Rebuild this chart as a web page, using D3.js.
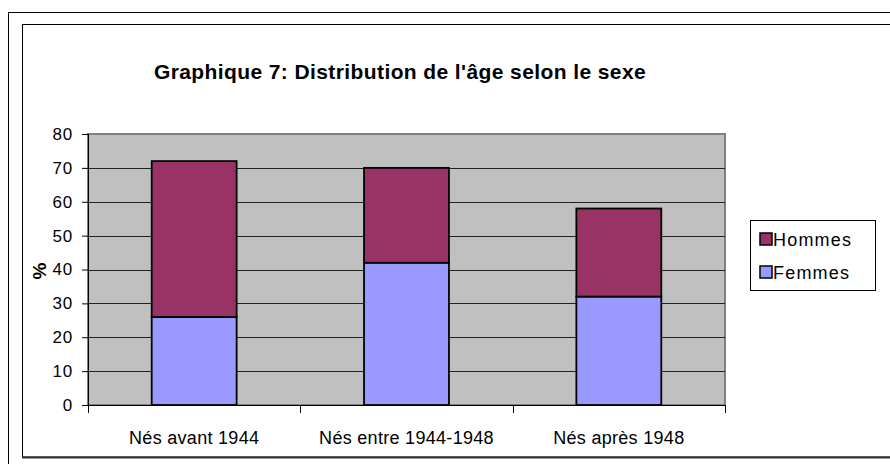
<!DOCTYPE html>
<html>
<head>
<meta charset="utf-8">
<script src="https://cdn.jsdelivr.net/npm/d3@7"></script>
<style>
  body{margin:0;background:#fff;}
  text{font-family:"Liberation Sans",Arial,sans-serif;}
</style>
</head>
<body>
<div id="chart"></div>
<script>
//chart data
const categories=["Nés avant 1944","Nés entre 1944-1948","Nés après 1948"];
const femmes=[26,42,32];
const hommes=[46,28,26];
const seriesNames=["Femmes","Hommes"];
const yTicks=[0,10,20,30,40,50,60,70,80];

const w=890, h=464;
const colors={Femmes:"#9999FF",Hommes:"#993366"};

const svg=d3.select("#chart").append("svg")
    .attr("width",w)
    .attr("height",h);

//outer frames
svg.append("rect")
    .attr("x",8.5).attr("y",12.5)
    .attr("width",900).attr("height",470)
    .attr("fill","none").attr("stroke","#000");
svg.append("rect")
    .attr("x",22.5).attr("y",24.5)
    .attr("width",890).attr("height",432.5)
    .attr("fill","#fff").attr("stroke","#000").attr("stroke-width",1);
svg.append("line")
    .attr("x1",22).attr("x2",w).attr("y1",457.5).attr("y2",457.5)
    .attr("stroke","#333").attr("stroke-width",2);

//title
svg.append("text")
    .attr("x",400).attr("y",79)
    .attr("text-anchor","middle")
    .attr("font-size","21px")
    .attr("font-weight","bold")
    .attr("letter-spacing","0.4px")
    .text("Graphique 7: Distribution de l'âge selon le sexe");

const plotL=88, plotR=725, plotT=134, plotB=405;

const x=d3.scaleBand()
    .domain(categories)
    .range([plotL,plotR])
    .paddingInner(0.6)
    .paddingOuter(0.3);

const y=d3.scaleLinear()
    .domain([0,80])
    .range([plotB,plotT]);

//plot area
svg.append("rect")
    .attr("x",plotL).attr("y",plotT)
    .attr("width",plotR-plotL).attr("height",plotB-plotT)
    .attr("fill","#C0C0C0")
    .attr("stroke","#808080").attr("stroke-width",2);

//grid lines
svg.append("g")
    .selectAll("line")
    .data(yTicks.filter(d=>d>0&&d<80))
    .enter().append("line")
    .attr("x1",plotL).attr("x2",plotR)
    .attr("y1",d=>Math.round(y(d))+0.5)
    .attr("y2",d=>Math.round(y(d))+0.5)
    .attr("stroke","#222");

//stacked bars
const table=categories.map((c,i)=>({cat:c,Femmes:femmes[i],Hommes:hommes[i]}));
const stacked=d3.stack().keys(seriesNames)(table);

svg.append("g")
    .selectAll("g")
    .data(stacked)
    .enter().append("g")
    .attr("fill",d=>colors[d.key])
    .selectAll("rect")
    .data(d=>d)
    .enter().append("rect")
    .attr("x",d=>x(d.data.cat))
    .attr("y",d=>y(d[1]))
    .attr("width",x.bandwidth())
    .attr("height",d=>y(d[0])-y(d[1]))
    .attr("stroke","#000")
    .attr("stroke-width",1.8);

//y axis
const yAxis=svg.append("g")
    .attr("transform","translate("+plotL+",0)")
    .call(d3.axisLeft(y).tickValues(yTicks).tickSize(6).tickPadding(9));
yAxis.select(".domain").attr("stroke","#000").attr("d","M0.5,"+plotT+"V"+plotB);
yAxis.selectAll("text").attr("font-size","17px").attr("fill","#000")
    .attr("letter-spacing","0.8px")
    .style("font-family","'Liberation Sans',Arial,sans-serif");

//x axis
const xAxis=svg.append("g")
    .attr("transform","translate(0,"+plotB+")");
xAxis.append("line")
    .attr("x1",plotL).attr("x2",plotR)
    .attr("y1",0.5).attr("y2",0.5)
    .attr("stroke","#000");
const step=x.step();
const bounds=[plotL].concat(categories.map(c=>x(c)+x.bandwidth()+step*0.3));
xAxis.selectAll(".xtick")
    .data(bounds)
    .enter().append("line")
    .attr("x1",d=>Math.round(d)+0.5).attr("x2",d=>Math.round(d)+0.5)
    .attr("y1",0).attr("y2",8)
    .attr("stroke","#000");
xAxis.selectAll(".xlabel")
    .data(categories)
    .enter().append("text")
    .attr("x",d=>x(d)+x.bandwidth()/2)
    .attr("y",39)
    .attr("text-anchor","middle")
    .attr("font-size","18px")
    .attr("letter-spacing","0.3px")
    .text(d=>d);

//y title
svg.append("text")
    .attr("transform","translate(46,271) rotate(-90)")
    .attr("text-anchor","middle")
    .attr("font-size","19px")
    .attr("font-weight","bold")
    .text("%");

//legend
const legend=svg.append("g").attr("transform","translate(750,220)");
legend.append("rect")
    .attr("x",0.5).attr("y",0.5)
    .attr("width",125).attr("height",70)
    .attr("fill","#fff").attr("stroke","#000");
const legendItems=["Hommes","Femmes"];
legendItems.forEach((k,i)=>{
    legend.append("rect")
        .attr("x",10).attr("y",13+i*33)
        .attr("width",12).attr("height",12)
        .attr("fill",colors[k])
        .attr("stroke","#000").attr("stroke-width",1.5);
    legend.append("text")
        .attr("x",23).attr("y",26+i*33)
        .attr("font-size","18px")
        .attr("letter-spacing","1.2px")
        .text(k);
});
</script>
</body>
</html>
